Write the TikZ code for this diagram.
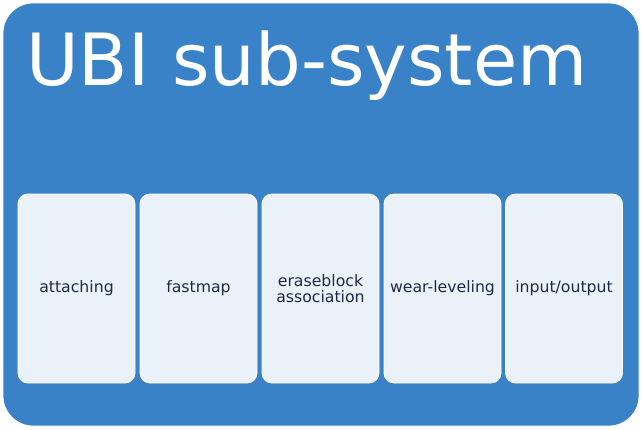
\documentclass[tikz,border=0pt]{standalone}
\usepackage{fontspec}
\setmainfont{DejaVu Sans}
\definecolor{outerblue}{HTML}{3A82C7}
\definecolor{boxfill}{HTML}{EAF1F8}
\definecolor{boxtext}{HTML}{1E2B45}
\begin{document}
\begin{tikzpicture}[x=1pt,y=-1pt,
  part/.style={fill=boxfill, draw=white, line width=0.8pt, rounded corners=10pt,
    minimum width=117pt, minimum height=189pt, inner sep=0pt, text=boxtext,
    font=\fontsize{15.7}{17}\selectfont, align=center}]
\useasboundingbox (0,0) rectangle (642,429);
\node[fill=outerblue, draw=white, line width=0.8pt, rounded corners=30pt, minimum width=636pt, minimum height=423pt, inner sep=0pt] (outer) at (321,214.5) {};
\node[anchor=base west, text=white, inner sep=0pt, font=\fontsize{72}{80}\selectfont] (title) at (26,85) {UBI sub-system};
\node[part] (p1) at (76.5,288.5) {\raisebox{-2pt}{attaching}};
\node[part] (p2) at (198.5,288.5) {\raisebox{-2pt}{fastmap}};
\node[part] (p3) at (320.5,288.5) {\raisebox{-2pt}{eraseblock}\\[-1pt]\raisebox{-2pt}{association}};
\node[part] (p4) at (442.5,288.5) {\raisebox{-2pt}{wear-leveling}};
\node[part] (p5) at (564,288.5) {\raisebox{-2pt}{input/output}};
\end{tikzpicture}
\end{document}
